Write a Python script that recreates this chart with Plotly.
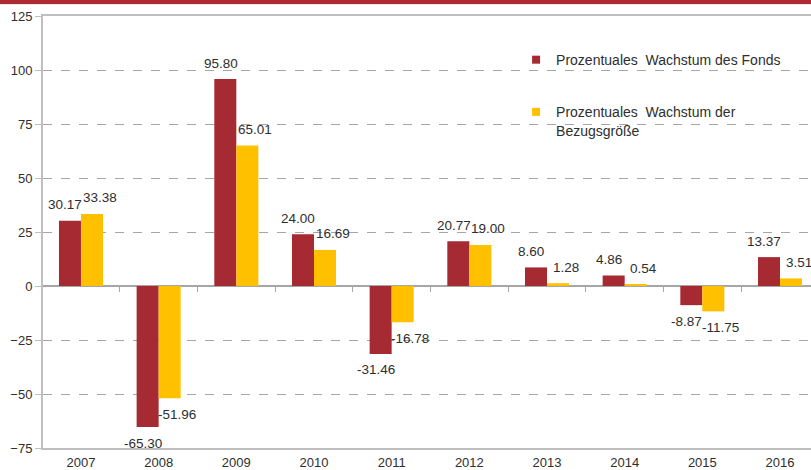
import plotly.graph_objects as go

years = ["2007", "2008", "2009", "2010", "2011", "2012", "2013", "2014", "2015", "2016"]
fonds = [30.17, -65.30, 95.80, 24.00, -31.46, 20.77, 8.60, 4.86, -8.87, 13.37]
bezug = [33.38, -51.96, 65.01, 16.69, -16.78, 19.00, 1.28, 0.54, -11.75, 3.51]
y_ticks = [-75, -50, -25, 0, 25, 50, 75, 100, 125]

name_fonds = "Prozentuales  Wachstum des Fonds"
name_bezug = "Prozentuales  Wachstum der<br>Bezugsgröße"

RED = "#A52A32"
YEL = "#FFC000"
GRID = "#A6A6A6"
TXT = "#2E2E2E"
FONT = "Arial, Liberation Sans, sans-serif"

fig = go.Figure()
fig.add_trace(go.Bar(x=years, y=fonds, marker=dict(color=RED, line=dict(width=0)),
                     showlegend=False, name=name_fonds))
fig.add_trace(go.Bar(x=years, y=bezug, marker=dict(color=YEL, line=dict(width=0)),
                     showlegend=False, name=name_bezug))
# legend-only entries with small square markers
fig.add_trace(go.Scatter(x=[None], y=[None], mode="markers", name=name_fonds,
                         marker=dict(symbol="square", size=8, color=RED), legendgroup="a"))
fig.add_trace(go.Scatter(x=[None], y=[None], mode="markers", name=name_bezug,
                         marker=dict(symbol="square", size=8, color=YEL), legendgroup="b"))
# helper axis at zero line for the category boundary ticks
fig.add_trace(go.Scatter(x=[None], y=[None], xaxis="x2", showlegend=False, hoverinfo="skip"))

annotations = []
for series, xs in ((fonds, 0), (bezug, 1)):
    for i, (yr, v) in enumerate(zip(years, series)):
        annotations.append(dict(
            x=i + (-0.2 if xs == 0 else 0.2), y=v, xref="x", yref="y",
            text=f"{v:.2f}", showarrow=False,
            xshift=(0 if xs == 0 else 3),
            yshift=(16 if v >= 0 else -16),
            font=dict(family=FONT, size=13.5, color=TXT),
            xanchor="center", yanchor="middle"))

xr = [-0.489, 9.399]
fig.update_layout(
    width=811, height=470,
    margin=dict(l=43, r=0, t=16, b=22, autoexpand=False),
    paper_bgcolor="white", plot_bgcolor="white",
    barmode="group", bargap=0.433, bargroupgap=0,
    font=dict(family=FONT, size=13, color=TXT),
    annotations=annotations,
    legend=dict(x=0.616, xanchor="left", y=0.935, yanchor="top",
                font=dict(family=FONT, size=14, color=TXT),
                bgcolor="rgba(0,0,0,0)", tracegroupgap=31,
                itemwidth=30, valign="top"),
    xaxis=dict(type="category", range=xr, showgrid=False, zeroline=False,
               showline=True, linecolor="#BFBFBF", linewidth=2, mirror=True,
               ticks="", ticklabelstandoff=1, automargin=False,
               tickfont=dict(family=FONT, size=13, color=TXT)),
    xaxis2=dict(overlaying="x", anchor="free", position=0.375, range=xr,
                showgrid=False, zeroline=False, showline=False,
                tickmode="array", tickvals=[i + 0.5 for i in range(9)],
                showticklabels=False, ticks="outside", ticklen=5,
                tickcolor=GRID, tickwidth=1, automargin=False),
    yaxis=dict(range=[-75, 125], tickmode="array", tickvals=y_ticks,
               showgrid=True, gridcolor=GRID, griddash="dash", gridwidth=1,
               zeroline=True, zerolinecolor=GRID, zerolinewidth=1.5,
               showline=True, linecolor="#BFBFBF", linewidth=2,
               ticks="outside", ticklen=6, tickcolor="#BFBFBF", automargin=False,
               tickfont=dict(family=FONT, size=13, color=TXT)),
    shapes=[
        dict(type="rect", xref="paper", yref="paper", x0=-0.06, x1=1.01,
             y0=1 + 11 / 432, y1=1 + 17 / 432, fillcolor="#E6E6E6", line=dict(width=0), layer="above"),
        dict(type="rect", xref="paper", yref="paper", x0=-0.06, x1=1.01,
             y0=1 + 12 / 432, y1=1 + 17 / 432, fillcolor="#AD2B34", line=dict(width=0), layer="above"),
    ],
)
fig.write_html("out.html", config={"displayModeBar": False},
               post_script="document.body.style.margin='0';document.body.style.overflow='hidden';")
